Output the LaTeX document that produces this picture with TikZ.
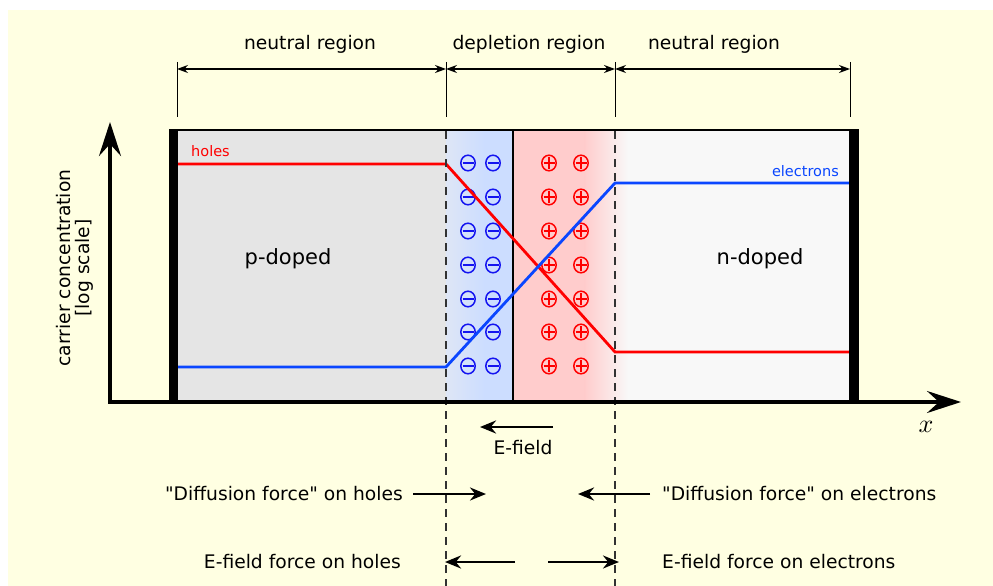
\documentclass[tikz,border=0pt]{standalone}
\usepackage{fontspec}
\setmainfont{DejaVu Sans}[Ligatures=TeXOff]
\usetikzlibrary{arrows.meta}
\definecolor{bg}{RGB}{255,255,226}
\definecolor{pfill}{RGB}{229,229,229}
\definecolor{nfill}{RGB}{248,248,248}
\definecolor{bluefill}{RGB}{204,221,255}
\definecolor{bluelight}{RGB}{222,230,246}
\definecolor{redfill}{RGB}{255,204,204}
\definecolor{elblue}{RGB}{10,70,255}
\definecolor{chblue}{RGB}{20,20,240}
\definecolor{dashgray}{RGB}{50,50,50}
\begin{document}
\begin{tikzpicture}[x=1pt,y=-1pt,
  bigtxt/.style={font=\fontsize{18.7}{20}\selectfont, inner sep=0pt},
  dopetxt/.style={font=\fontsize{21}{24}\selectfont, inner sep=0pt},
  smalltxt/.style={font=\fontsize{14.5}{16}\selectfont, inner sep=0pt},
  dimarrow/.style={{Stealth[length=11pt,width=8pt]}-{Stealth[length=11pt,width=8pt]}, line width=1.2pt},
  forcearrow/.style={-{Stealth[length=16pt,width=13pt]}, line width=2.6pt},
  axisarrow/.style={-{Stealth[length=34pt,width=22pt,inset=12pt]}, line width=3.5pt},
  ticks/.style={line width=1pt},
  dashline/.style={dashgray, line width=1.3pt, dash pattern=on 8pt off 6pt},
  curve/.style={line width=2.8pt, line join=miter},
  chg/.style={line width=1.5pt},
]
\useasboundingbox (0,0) rectangle (993,586);
\fill[bg] (8,10) rectangle (993,586);

% regions
\fill[pfill] (178,131) rectangle (446,401);
\fill[nfill] (615,131) rectangle (850,401);
\shade[left color=bluelight, right color=bluefill] (446,131) rectangle (485,401);
\fill[bluefill] (484.5,131) rectangle (513,401);
\fill[redfill] (513,131) rectangle (585,401);
\shade[left color=redfill, right color=nfill] (584.5,131) rectangle (628,401);

% coordinates
\coordinate (hA) at (178,164);
\coordinate (hB) at (446,164);
\coordinate (hC) at (615,352);
\coordinate (hD) at (850,352);
\coordinate (eA) at (178,367);
\coordinate (eB) at (446,367);
\coordinate (eC) at (615,183);
\coordinate (eD) at (850,183);

% charges
\foreach \yy in {163,197,231,265,299,332,366}{
  \foreach \xx in {468,493}{
    \draw[chg, chblue] (\xx,\yy) ellipse (7.2 and 7.8);
    \draw[chg, chblue] (\xx-5.5,\yy) -- (\xx+5.5,\yy);
  }
  \foreach \xx in {549,581}{
    \draw[chg, red] (\xx,\yy) ellipse (7.2 and 7.8);
    \draw[chg, red] (\xx-5.5,\yy) -- (\xx+5.5,\yy);
    \draw[chg, red] (\xx,\yy-6) -- (\xx,\yy+6);
  }
}

% junction
\coordinate (jT) at (513,130);
\coordinate (jB) at (513,402);
\draw[line width=2pt] (jT) -- (jB);

% carrier curves
\draw[curve, red] (hA) -- (hB) -- (hC) -- (hD);
\draw[curve, elblue] (eA) -- (eB) -- (eC) -- (eD);
\node[smalltxt, red, anchor=base west] (holes) at (191,156) {holes};
\node[smalltxt, elblue, anchor=base east] (electrons) at (839,176) {electrons};

\node[dopetxt] (pdoped) at (288,259) {p-doped};
\node[dopetxt] (ndoped) at (760,259) {n-doped};

% box
\coordinate (tl) at (170,130);
\coordinate (tr) at (858,130);
\draw[line width=2.5pt] (tl) -- (tr);
\fill (169,129) rectangle (178,402);
\fill (849,129) rectangle (859,402);

% dashed lines
\coordinate (d1t) at (446,131);
\coordinate (d1b) at (446,586);
\coordinate (d2t) at (615,131);
\coordinate (d2b) at (615,586);
\draw[dashline] (d1t) -- (d1b);
\draw[dashline] (d2t) -- (d2b);

% axes
\coordinate (origin) at (108,402);
\coordinate (yend) at (110,122);
\coordinate (xend) at (961,402);
\draw[axisarrow] (110,403.5) -- (yend);
\draw[axisarrow] (origin) -- (xend);
\node[scale=2.6, inner sep=0pt] (xlabel) at (926,427) {$x$};
\node[rotate=90, align=center, inner sep=0pt, font=\fontsize{18.7}{19.5}\selectfont] (ylabel) at (75,268) {carrier concentration\\{}[log scale]};

% dimension ticks
\coordinate (t1a) at (177,62); \coordinate (t1b) at (177,117);
\coordinate (t2a) at (446,62); \coordinate (t2b) at (446,117);
\coordinate (t3a) at (615,62); \coordinate (t3b) at (615,117);
\coordinate (t4a) at (850,62); \coordinate (t4b) at (850,117);
\draw[ticks] (t1a) -- (t1b);
\draw[ticks] (t2a) -- (t2b);
\draw[ticks] (t3a) -- (t3b);
\draw[ticks] (t4a) -- (t4b);
\coordinate (a1) at (177,69); \coordinate (a2) at (446,69);
\coordinate (a3) at (615,69); \coordinate (a4) at (850,69);
\draw[dimarrow] (a1) -- (a2);
\draw[dimarrow] (a2) -- (a3);
\draw[dimarrow] (a3) -- (a4);
\node[bigtxt] (nr1) at (310,44) {neutral region};
\node[bigtxt] (dr) at (529,44) {depletion region};
\node[bigtxt] (nr2) at (714,44) {neutral region};

% E-field
\coordinate (ef1) at (553,427);
\coordinate (ef2) at (480,427);
\draw[forcearrow] (ef1) -- (ef2);
\node[bigtxt] (eflabel) at (523,448) {E-field};

% diffusion
\node[bigtxt, anchor=east] (dfh) at (403,494) {"Diffusion force" on holes};
\node[bigtxt, anchor=west] (dfe) at (662,494) {"Diffusion force" on electrons};
\coordinate (dh1) at (413,494); \coordinate (dh2) at (486,494);
\coordinate (de1) at (650,494); \coordinate (de2) at (578,494);
\draw[forcearrow] (dh1) -- (dh2);
\draw[forcearrow] (de1) -- (de2);

% E-field force
\node[bigtxt, anchor=east] (efh) at (401,562) {E-field force on holes};
\node[bigtxt, anchor=west] (efe) at (662,562) {E-field force on electrons};
\coordinate (fh1) at (515,562); \coordinate (fh2) at (445,562);
\coordinate (fe1) at (548,562); \coordinate (fe2) at (619,562);
\draw[forcearrow] (fh1) -- (fh2);
\draw[forcearrow] (fe1) -- (fe2);
\end{tikzpicture}
\end{document}
